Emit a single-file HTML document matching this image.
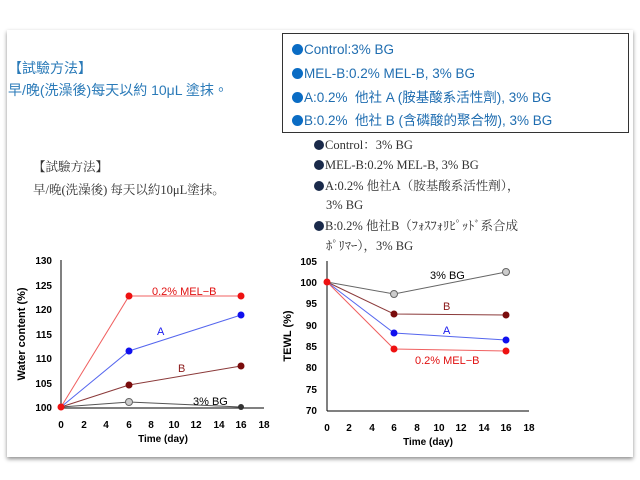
<!DOCTYPE html>
<html><head><meta charset="utf-8"><style>
html,body{margin:0;padding:0;background:#fff;width:640px;height:480px;overflow:hidden}
.card{position:absolute;left:7px;top:30px;width:626px;height:427px;background:#fff;box-shadow:0 2px 4px rgba(0,0,0,.45)}
.t{position:absolute;white-space:nowrap;font-family:"Liberation Sans","Noto Sans CJK TC",sans-serif;line-height:16px;height:16px}
.b{color:#2a7ab8;font-size:14px}
.s{font-family:"Liberation Serif","Noto Serif CJK SC",serif;color:#333;font-size:12.5px}
.box{position:absolute;left:282px;top:33px;width:345px;height:98px;border:1px solid #333;background:#fff}
.bl{color:#1f6db0;font-size:13.5px}
.dot{display:inline-block;width:11px;height:11px;border-radius:50%;background:#0a6cc4;vertical-align:-1px;margin-right:1px}
.sd{display:inline-block;width:10px;height:10px;border-radius:50%;background:#1a2a4a;vertical-align:-1px;margin-right:1px}
</style></head><body>
<div class="card"></div>
<div class="t b" style="left:8px;top:60px">【試驗方法】</div>
<div class="t b" style="left:8px;top:82px">早/晚(洗澡後)每天以約 10μL 塗抹。</div>
<div class="t s" style="left:33px;top:159px">【試驗方法】</div>
<div class="t s" style="left:33px;top:182px">早/晚(洗澡後) 每天以約10μL塗抹。</div>
<div class="t s" style="left:314px;top:137px"><span class="sd"></span>Control：3% BG</div>
<div class="t s" style="left:314px;top:157px"><span class="sd"></span>MEL-B:0.2% MEL-B, 3% BG</div>
<div class="t s" style="left:314px;top:178px"><span class="sd"></span>A:0.2% 他社A（胺基酸系活性劑），</div>
<div class="t s" style="left:326px;top:197px">3% BG</div>
<div class="t s" style="left:314px;top:218px"><span class="sd"></span>B:0.2% 他社B（ﾌｫｽﾌｫﾘﾋﾟｯﾄﾞ系合成</div>
<div class="t s" style="left:326px;top:238px">ﾎﾟﾘﾏｰ），3% BG</div>
<div class="box"></div>
<div class="t bl" style="left:292px;top:42px"><span class="dot"></span>Control:3% BG</div>
<div class="t bl" style="left:292px;top:66px"><span class="dot"></span>MEL-B:0.2% MEL-B, 3% BG</div>
<div class="t bl" style="left:292px;top:90px"><span class="dot"></span>A:0.2%&nbsp; 他社 A (胺基酸系活性劑), 3% BG</div>
<div class="t bl" style="left:292px;top:113px"><span class="dot"></span>B:0.2%&nbsp; 他社 B (含磷酸的聚合物), 3% BG</div>
<svg width="640" height="480" style="position:absolute;left:0;top:0" font-family="Liberation Sans,Arial,sans-serif" font-weight="bold" font-size="10">
<g stroke="#000" stroke-width="1">
<line x1="61" y1="260" x2="61" y2="408"/><line x1="61" y1="408" x2="264" y2="408"/>
<line x1="327" y1="261" x2="327" y2="411"/><line x1="327" y1="411" x2="529" y2="411"/>
</g>
<g fill="#000" text-anchor="end">
<text x="52" y="264">130</text><text x="52" y="289">125</text><text x="52" y="313">120</text><text x="52" y="338">115</text><text x="52" y="362">110</text><text x="52" y="387">105</text><text x="52" y="411">100</text>
<text x="317" y="265">105</text><text x="317" y="286">100</text><text x="317" y="307">95</text><text x="317" y="329">90</text><text x="317" y="350">85</text><text x="317" y="371">80</text><text x="317" y="393">75</text><text x="317" y="414">70</text>
</g>
<g fill="#000" text-anchor="middle">
<text x="61" y="428">0</text><text x="84" y="428">2</text><text x="106" y="428">4</text><text x="129" y="428">6</text><text x="151" y="428">8</text><text x="174" y="428">10</text><text x="196" y="428">12</text><text x="219" y="428">14</text><text x="241" y="428">16</text><text x="264" y="428">18</text>
<text x="327" y="431">0</text><text x="349" y="431">2</text><text x="372" y="431">4</text><text x="394" y="431">6</text><text x="417" y="431">8</text><text x="439" y="431">10</text><text x="461" y="431">12</text><text x="484" y="431">14</text><text x="506" y="431">16</text><text x="529" y="431">18</text>
<text x="163" y="442">Time (day)</text><text x="428" y="445">Time (day)</text>
<text transform="translate(25,334) rotate(-90)" font-size="11">Water content (%)</text>
<text transform="translate(291,336) rotate(-90)" font-size="11">TEWL (%)</text>
</g>
<polyline points="61,407 129,402 241,407" fill="none" stroke="#555"/>
<polyline points="61,407 129,385 241,366" fill="none" stroke="#8b3a3a"/>
<polyline points="61,407 129,351 241,315" fill="none" stroke="#5566ee"/>
<polyline points="61,407 129,296 241,296" fill="none" stroke="#f06060"/>
<circle cx="129" cy="402" r="3.5" fill="#ccc" stroke="#666"/><circle cx="241" cy="407" r="3" fill="#333"/>
<circle cx="129" cy="385" r="3.5" fill="#7a0c0c"/><circle cx="241" cy="366" r="3.5" fill="#7a0c0c"/>
<circle cx="129" cy="351" r="3.5" fill="#1010ee"/><circle cx="241" cy="315" r="3.5" fill="#1010ee"/>
<circle cx="129" cy="296" r="3.5" fill="#ee1111"/><circle cx="241" cy="296" r="3.5" fill="#ee1111"/>
<circle cx="61" cy="407" r="3.5" fill="#ee1111"/>
<g font-weight="normal" font-size="11">
<text x="152" y="295" fill="#e01010">0.2% MEL−B</text>
<text x="157" y="335" fill="#1a1aee">A</text>
<text x="178" y="372" fill="#8b1a1a">B</text>
<text x="193" y="405" fill="#000">3% BG</text>
</g>
<polyline points="327,282 394,294 506,272" fill="none" stroke="#666"/>
<polyline points="327,282 394,314 506,315" fill="none" stroke="#8b3a3a"/>
<polyline points="327,282 394,333 506,340" fill="none" stroke="#5566ee"/>
<polyline points="327,282 394,349 506,351" fill="none" stroke="#f06060"/>
<circle cx="394" cy="294" r="3.5" fill="#ccc" stroke="#666"/><circle cx="506" cy="272" r="3.5" fill="#ccc" stroke="#666"/>
<circle cx="394" cy="314" r="3.5" fill="#7a0c0c"/><circle cx="506" cy="315" r="3.5" fill="#7a0c0c"/>
<circle cx="394" cy="333" r="3.5" fill="#1010ee"/><circle cx="506" cy="340" r="3.5" fill="#1010ee"/>
<circle cx="394" cy="349" r="3.5" fill="#ee1111"/><circle cx="506" cy="351" r="3.5" fill="#ee1111"/>
<circle cx="327" cy="282" r="3.5" fill="#ee1111"/>
<g font-weight="normal" font-size="11">
<text x="430" y="279" fill="#000">3% BG</text>
<text x="443" y="310" fill="#8b1a1a">B</text>
<text x="443" y="334" fill="#1a1aee">A</text>
<text x="415" y="364" fill="#e01010">0.2% MEL−B</text>
</g>
</svg>
</body></html>
